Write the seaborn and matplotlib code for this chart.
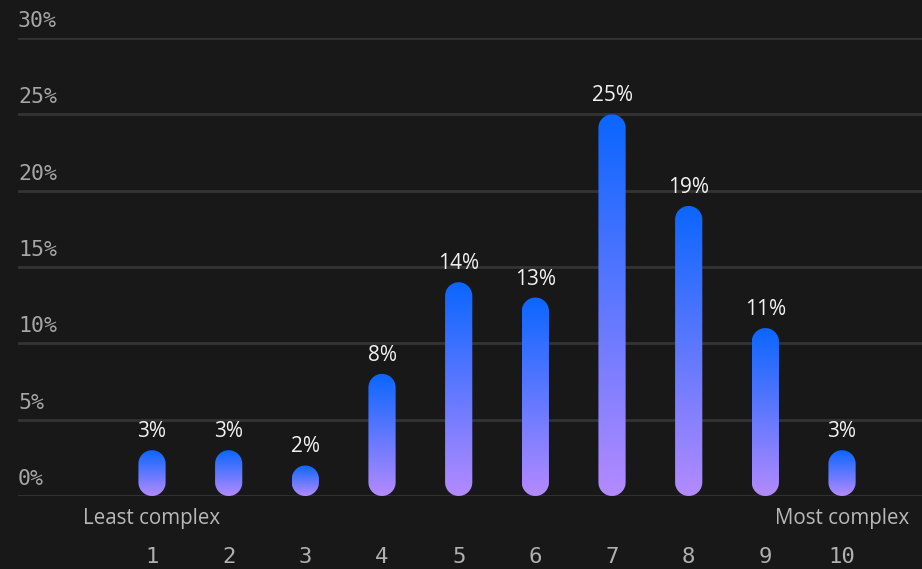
import numpy as np
import pandas as pd
import matplotlib
matplotlib.use("Agg")
import matplotlib.pyplot as plt
import matplotlib.transforms as mtransforms
from matplotlib.patches import PathPatch
from matplotlib.path import Path
from matplotlib.colors import LinearSegmentedColormap
import seaborn as sns

categories = ["1", "2", "3", "4", "5", "6", "7", "8", "9", "10"]
values = [3, 3, 2, 8, 14, 13, 25, 19, 11, 3]
value_labels = ["3%", "3%", "2%", "8%", "14%", "13%", "25%", "19%", "11%", "3%"]
y_ticks = [0, 5, 10, 15, 20, 25, 30]
y_tick_labels = ["0%", "5%", "10%", "15%", "20%", "25%", "30%"]
end_labels = ["Least complex", "Most complex"]

BG = "#181818"
GRID = "#333333"
TOP = "#0a66ff"
BOTTOM = "#b48aff"

sns.set_theme(style="dark")
plt.rcParams["font.family"] = ["Open Sans", "DejaVu Sans"]

W, H = 922, 569
fig = plt.figure(figsize=(W / 100, H / 100), dpi=100, facecolor=BG)
left_px, right_px, top_px, bot_px = 18, 922, 38, 496
ax = fig.add_axes([left_px / W, (H - bot_px) / H, (right_px - left_px) / W, (bot_px - top_px) / H])
ax.set_facecolor(BG)

df = pd.DataFrame({"score": categories, "share": values})
sns.barplot(data=df, x="score", y="share", order=categories, ax=ax, width=0.355, color=TOP)

XL = (-1.748, 10.043)
ax.set_ylim(0, 30)
ax.set_xlim(*XL)
for s in ax.spines.values():
    s.set_visible(False)
ax.set_xlabel("")
ax.set_ylabel("")
ax.set_yticks(y_ticks)
ax.set_yticklabels([])
ax.tick_params(axis="y", length=0)
ax.grid(False)
for yt in y_ticks:
    ax.axhline(yt, color=GRID, lw=2, zorder=0)

# y tick labels above gridlines
yoff = mtransforms.ScaledTranslation(0, 11 / 100, fig.dpi_scale_trans)
for yt, lab in zip(y_ticks, y_tick_labels):
    ax.text(0, yt, lab, transform=ax.get_yaxis_transform() + yoff, ha="left", va="baseline",
            family="DejaVu Sans Mono", fontsize=15.5, color="#a6a6a6")

# x tick labels
ax.tick_params(axis="x", length=0, pad=37, labelsize=16, labelcolor="#b0b0b0")
for t in ax.get_xticklabels():
    t.set_fontfamily("DejaVu Sans Mono")

# end labels
eoff = mtransforms.ScaledTranslation(0, -28 / 100, fig.dpi_scale_trans)
for pos, lab in zip([0, len(categories) - 1], end_labels):
    ax.text(pos, 0, lab, transform=ax.get_xaxis_transform() + eoff, ha="center", va="baseline",
            fontsize=14.8, color="#b8b8b8")

# replace bars with rounded gradient pills
cmap = LinearSegmentedColormap.from_list("g", [BOTTOM, TOP])
grad = np.linspace(0, 1, 256).reshape(-1, 1)
x_per_px = (XL[1] - XL[0]) / ax.bbox.width
y_per_px = 30 / ax.bbox.height
aspect = y_per_px / x_per_px


def stadium(x0, w, h):
    rx = w / 2
    ry = min(rx * aspect, h / 2)
    cx = x0 + rx
    t_top = np.linspace(0, np.pi, 40)
    t_bot = np.linspace(np.pi, 2 * np.pi, 40)
    top = np.column_stack([cx + rx * np.cos(t_top), h - ry + ry * np.sin(t_top)])
    bot = np.column_stack([cx + rx * np.cos(t_bot), ry + ry * np.sin(t_bot)])
    pts = np.vstack([top, bot, top[:1]])
    codes = [Path.MOVETO] + [Path.LINETO] * (len(pts) - 2) + [Path.CLOSEPOLY]
    return Path(pts, codes)


patches = list(ax.patches)
for p, lab in zip(patches, value_labels):
    x0, w, h = p.get_x(), p.get_width(), p.get_height()
    p.set_visible(False)
    pill = PathPatch(stadium(x0, w, h), facecolor="none", edgecolor="none", transform=ax.transData)
    ax.add_patch(pill)
    im = ax.imshow(grad, extent=[x0, x0 + w, 0, h], origin="lower", cmap=cmap, aspect="auto",
                   interpolation="bicubic", zorder=2)
    im.set_clip_path(pill)
    ax.annotate(lab, (x0 + w / 2, h), xytext=(0, 13), textcoords="offset pixels",
                ha="center", va="baseline", fontsize=15, color="#f2f2f2")

ax.set_xlim(*XL)
ax.set_ylim(0, 30)
fig.savefig("out.png", dpi=100, facecolor=BG)
